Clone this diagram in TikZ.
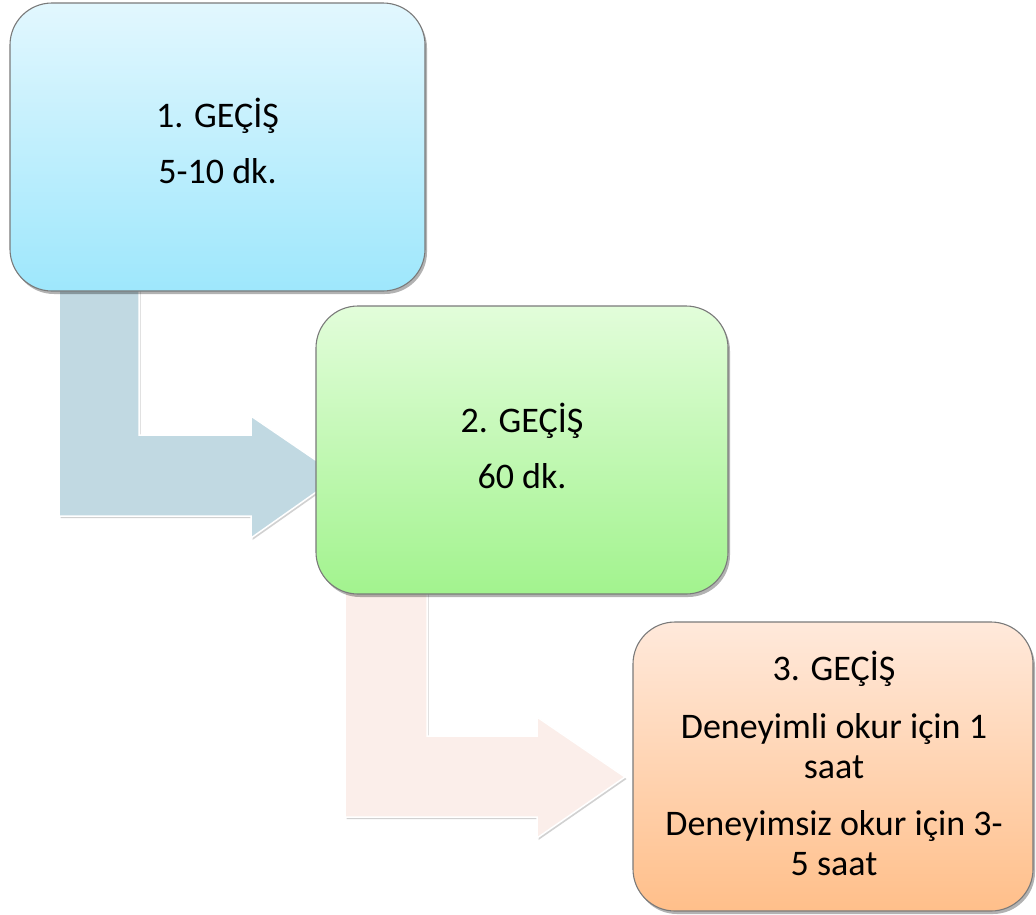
\documentclass[tikz,border=0pt]{standalone}
\usepackage{fontspec}
\setmainfont{Carlito}
\usetikzlibrary{shadows}
\definecolor{boxline}{HTML}{7A7A7A}
\definecolor{c1top}{HTML}{E2F7FE}
\definecolor{c1bot}{HTML}{9EE7FC}
\definecolor{c2top}{HTML}{E2FDDA}
\definecolor{c2bot}{HTML}{A2F38E}
\definecolor{c3top}{HTML}{FFE9DB}
\definecolor{c3bot}{HTML}{FFBF8A}
\definecolor{arr1}{HTML}{C1D9E2}
\definecolor{arr2}{HTML}{FBEEEA}
\tikzset{
  stagebox/.style={draw=boxline, line width=1.1pt, rounded corners=42pt, inner sep=0pt,
    drop shadow={shadow xshift=2pt, shadow yshift=-3pt, opacity=0.3, fill=black}},
  bentarrow/.style={draw=white, line width=1.5pt, line join=miter,
    drop shadow={shadow xshift=1.5pt, shadow yshift=-2pt, opacity=0.18, fill=black}},
  label/.style={anchor=base, inner sep=0pt, font=\fontsize{36}{43}\selectfont, text=black}
}
\begin{document}
\begin{tikzpicture}[x=1pt,y=1pt]
\useasboundingbox (0,0) rectangle (1036,-914);
% bent arrows (drawn first, under the boxes)
\path[bentarrow, fill=arr1] (59,-285) -- (139,-285) -- (139,-435) -- (251,-435) -- (251,-416)
  -- (339,-476) -- (251,-538) -- (251,-516) -- (59,-516) -- cycle;
\path[bentarrow, fill=arr2] (345,-588) -- (427,-588) -- (427,-736) -- (537,-736) -- (537,-717)
  -- (625,-777) -- (537,-838) -- (537,-817) -- (345,-817) -- cycle;
% boxes
\node[stagebox, top color=c1top, bottom color=c1bot, minimum width=415pt, minimum height=288pt] (b1) at (217.5,-147) {};
\node[stagebox, top color=c2top, bottom color=c2bot, minimum width=412pt, minimum height=288pt] (b2) at (522,-450) {};
\node[stagebox, top color=c3top, bottom color=c3bot, minimum width=400pt, minimum height=289pt] (b3) at (833,-766.5) {};
% texts
\node[label] (t1a) at (217.5,-127) {1. GEÇİŞ};
\node[label] (t1b) at (217.5,-183) {5-10 dk.};
\node[label] (t2a) at (522,-432) {2. GEÇİŞ};
\node[label] (t2b) at (522,-488) {60 dk.};
\node[label] (t3a) at (834,-680) {3. GEÇİŞ};
\node[label] (t3b) at (834,-738) {Deneyimli okur için 1};
\node[label] (t3c) at (834,-778) {saat};
\node[label] (t3d) at (834,-835) {Deneyimsiz okur için 3-};
\node[label] (t3e) at (834,-875) {5 saat};
\end{tikzpicture}
\end{document}
